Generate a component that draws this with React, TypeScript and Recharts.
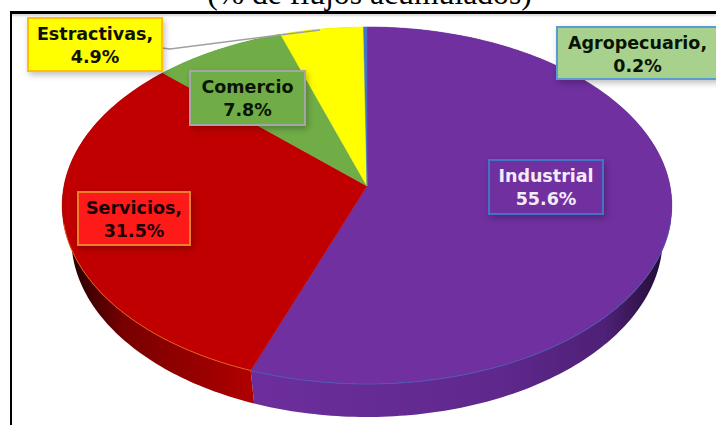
import React from 'react';
import { PieChart, Pie, Cell } from 'recharts';

const sectors = ['Industrial', 'Servicios', 'Comercio', 'Estractivas', 'Agropecuario'];
const shares = [55.6, 31.5, 7.8, 4.9, 0.2];
const labelNames = ['Industrial', 'Servicios,', 'Comercio', 'Estractivas,', 'Agropecuario,'];

const faceColors = ['#7030a0', '#c00000', '#70ad47', '#ffff00', '#4472c4'];
const rimColors = ['#4a5ab0', '#e0601a', '#8aa070', '#ffc000', '#5b9bd5'];
const sideColors = ['url(#sideIndustrial)', 'url(#sideServicios)', '#557f36', '#b8b800', '#2f5597'];

const labelBoxes = [
  { x: 489, y: 160, w: 114, h: 54, fill: '#7030a0', stroke: '#4472c4', text: '#f3ecf8' },
  { x: 78, y: 192, w: 112, h: 53, fill: '#ff1a1a', stroke: '#ed7d31', text: '#1a0000' },
  { x: 190, y: 71, w: 115, h: 54, fill: '#70ad47', stroke: '#a5a5a5', text: '#0a1405' },
  { x: 28, y: 18, w: 134, h: 53, fill: '#ffff00', stroke: '#ffc000', text: '#111100' },
  { x: 557, y: 27, w: 161, h: 52, fill: '#a9d18e', stroke: '#5b9bd5', text: '#0a1405' },
];

const chartData = sectors.map((name, i) => ({ name, value: shares[i] }));

// the pie is tilted in perspective, so every sector goes through this projection
const SPREAD_X = 303;
const SPREAD_Y = 176.4;
const TILT = 0.109;
const DEPTH = 33;
const BASE_SHRINK = 0.97;

const project = (cx: number, cy: number, deg: number) => {
  const a = (deg * Math.PI) / 180;
  const w = 1 + TILT * Math.sin(a);
  return {
    x: cx + (SPREAD_X * Math.cos(a)) / w,
    y: cy - (SPREAD_Y * Math.sin(a)) / w,
  };
};

const arcAngles = (start: number, end: number) => {
  const steps = Math.max(2, Math.ceil(Math.abs(end - start)));
  const angles = [];
  for (let i = 0; i <= steps; i++) angles.push(start + ((end - start) * i) / steps);
  return angles;
};

const toLine = (pts: { x: number; y: number }[]) =>
  pts.map((p, i) => `${i === 0 ? 'M' : 'L'}${p.x.toFixed(2)},${p.y.toFixed(2)}`).join(' ');

const FaceSector = (props: any) => {
  const { cx, cy, startAngle, endAngle, fill, stroke } = props;
  const angles = arcAngles(startAngle, endAngle);
  const pts = [{ x: cx, y: cy }, ...angles.map((a) => project(cx, cy, a))];
  // only the front of the rim carries a visible edge line
  const front = angles
    .filter((a) => Math.sin((a * Math.PI) / 180) < -0.2)
    .map((a) => project(cx, cy, a));
  return (
    <g>
      <path d={toLine(pts) + ' Z'} fill={fill} stroke={fill} strokeWidth={0.5} />
      {front.length > 1 && <path d={toLine(front)} fill="none" stroke={stroke} strokeWidth={1} />}
    </g>
  );
};

const SideSector = (props: any) => {
  const { cx, cy, startAngle, endAngle, fill } = props;
  const upper = arcAngles(startAngle, endAngle).map((a) => project(cx, cy, a));
  const lower = upper
    .map((p) => ({ x: cx + (p.x - cx) * BASE_SHRINK, y: p.y + DEPTH }))
    .reverse();
  return <path d={toLine([...upper, ...lower]) + ' Z'} fill={fill} stroke="none" />;
};

const DataLabel = (props: any) => {
  const { index, value } = props;
  const box = labelBoxes[index];
  const midX = box.x + box.w / 2;
  return (
    <g>
      {index === 3 && (
        <polyline
          points={`${box.x + box.w},48 170,49 320,30`}
          fill="none"
          stroke="#a0a0a0"
          strokeWidth={1.5}
        />
      )}
      <rect
        x={box.x}
        y={box.y}
        width={box.w}
        height={box.h}
        fill={box.fill}
        stroke={box.stroke}
        strokeWidth={2}
        style={{ filter: 'drop-shadow(2px 3px 3px rgba(0,0,0,0.25))' }}
      />
      <text
        x={midX}
        y={box.y + 22}
        textAnchor="middle"
        fontFamily="'DejaVu Sans', sans-serif"
        fontWeight="bold"
        fontSize={17.5}
        fill={box.text}
      >
        {labelNames[index]}
      </text>
      <text
        x={midX}
        y={box.y + 45}
        textAnchor="middle"
        fontFamily="'DejaVu Sans', sans-serif"
        fontWeight="bold"
        fontSize={17.5}
        fill={box.text}
      >
        {`${value.toFixed(1)}%`}
      </text>
    </g>
  );
};

export default function App() {
  return (
    <div style={{ position: 'absolute', left: 0, top: 0, width: 716, height: 425, overflow: 'hidden', background: '#fff' }}>
      <div
        style={{
          position: 'absolute',
          left: 0,
          width: 716,
          top: -24,
          textAlign: 'center',
          paddingLeft: 23,
          boxSizing: 'border-box',
          fontFamily: "'Liberation Serif', serif",
          fontSize: 31.7,
          whiteSpace: 'nowrap',
          color: '#000',
        }}
      >
        (% de flujos acumulados)
      </div>
      <div
        style={{
          position: 'absolute',
          left: 10,
          top: 11,
          width: 706,
          height: 3,
          background: '#000',
          boxShadow: '0 2px 2px rgba(0,0,0,0.15)',
        }}
      />
      <div style={{ position: 'absolute', left: 10, top: 11, width: 2, height: 414, background: '#000' }} />
      <div style={{ position: 'absolute', left: 0, top: 0 }}>
        <PieChart width={716} height={425} margin={{ top: 0, right: 0, bottom: 0, left: 0 }}>
          <defs>
            <linearGradient id="sideServicios" gradientUnits="userSpaceOnUse" x1="68" y1="0" x2="253" y2="0">
              <stop offset="0%" stopColor="#200000" />
              <stop offset="30%" stopColor="#780000" />
              <stop offset="100%" stopColor="#b00000" />
            </linearGradient>
            <linearGradient id="sideIndustrial" gradientUnits="userSpaceOnUse" x1="253" y1="0" x2="668" y2="0">
              <stop offset="0%" stopColor="#6c2e9c" />
              <stop offset="60%" stopColor="#5f288c" />
              <stop offset="85%" stopColor="#4e2076" />
              <stop offset="100%" stopColor="#1e0c30" />
            </linearGradient>
          </defs>
          <Pie
            data={chartData}
            dataKey="value"
            nameKey="name"
            cx={367}
            cy={186}
            outerRadius={160}
            startAngle={90}
            endAngle={-270}
            paddingAngle={0}
            shape={SideSector}
            isAnimationActive={false}
            rootTabIndex={-1}
          >
            {chartData.map((d, i) => (
              <Cell key={d.name} fill={sideColors[i]} stroke="none" />
            ))}
          </Pie>
          <Pie
            data={chartData}
            dataKey="value"
            nameKey="name"
            cx={367}
            cy={186}
            outerRadius={160}
            startAngle={90}
            endAngle={-270}
            paddingAngle={0}
            shape={FaceSector}
            label={DataLabel}
            labelLine={false}
            isAnimationActive={false}
            rootTabIndex={-1}
          >
            {chartData.map((d, i) => (
              <Cell key={d.name} fill={faceColors[i]} stroke={rimColors[i]} />
            ))}
          </Pie>
        </PieChart>
      </div>
    </div>
  );
}
